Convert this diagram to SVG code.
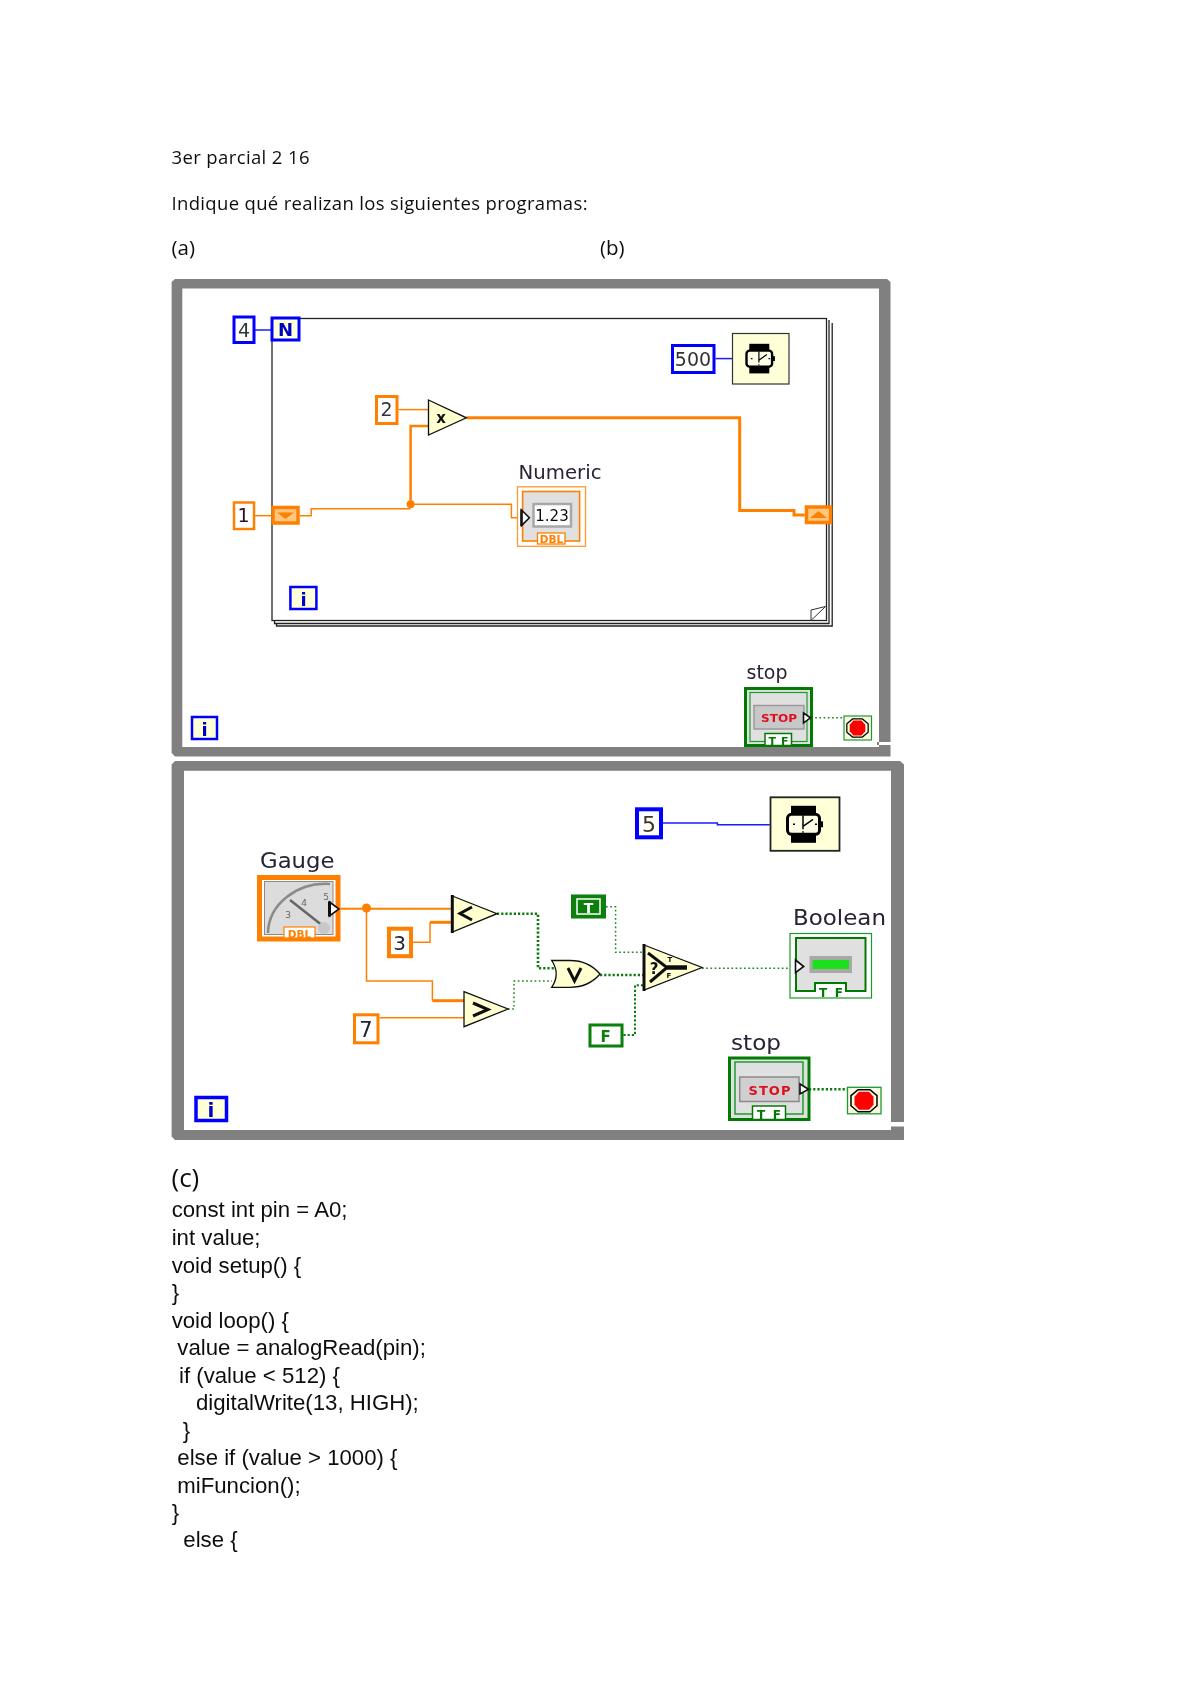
<svg xmlns="http://www.w3.org/2000/svg" xmlns:xlink="http://www.w3.org/1999/xlink" width="1200" height="1696" viewBox="0 0 1200 1696">
<style>
text{fill:#111}
.p{font-family:"Open Sans","Noto Sans",sans-serif;font-size:18.5px;fill:#111}
.c{font-family:"Liberation Sans",Arial,sans-serif;font-size:22.2px;fill:#111}
.l{font-family:"DejaVu Sans",sans-serif;fill:#2a2035}
.n{font-family:"DejaVu Sans",sans-serif;text-anchor:middle;fill:#333}
.ic{font-family:"DejaVu Sans",sans-serif;text-anchor:middle;font-weight:bold}
.frame{fill:#808080}
.bb{fill:#fff;stroke:#0000ff}
.by{fill:#ffffd8;stroke:#0000ff}
.ob{fill:#fff;stroke:#ff8000}
.w{fill:none;stroke-linejoin:miter}
.o1{stroke:#ff8000;stroke-width:1.5}
.o2{stroke:#ff8000;stroke-width:3}
.bl{stroke:#1a1aff;stroke-width:1.5}
.g1{stroke:#1f8a1f;stroke-width:1.5;stroke-dasharray:1.7 2.5}
.g2{stroke:#0a7a0a;stroke-width:2.6;stroke-dasharray:2.2 2}
.tri{fill:#ffffd0;stroke:#111;stroke-width:1.3}
.term{fill:#fff;stroke:#111;stroke-width:1.6}
.loop{fill:none;stroke:#222;stroke-width:1.3}
.gray{fill:#e0e0e0}
</style>
<defs>
<filter id="soft" x="0" y="0" width="100%" height="100%"><feGaussianBlur stdDeviation="0.45"/></filter>
<g id="watch">
<rect x="-14" y="-18.500" width="25" height="10" fill="#000"/>
<rect x="-14" y="8.500" width="25" height="10" fill="#000"/>
<rect x="-17.500" y="-10" width="32" height="20" rx="4" fill="#ffffe8" stroke="#000" stroke-width="3"/>
<rect x="15" y="-3" width="3" height="6" fill="#000"/>
<path d="M-2 -9V5M-2 2L8 -5" fill="none" stroke="#000" stroke-width="1.500"/>
<path d="M-12 0h2M-2 7v1.500M10 0h2" stroke="#000" stroke-width="1.500"/>
</g>
<g id="redstop">
<path d="M-6 -11H6L13 -5V5L6 11H-6L-13 5V-5Z" fill="#fbfbe0" stroke="#000" stroke-width="1.500"/>
<path d="M-5 -9H5L9.500 -4V4L5 9H-5L-9.500 4V-4Z" fill="#ff0000"/>
</g>
</defs>
<rect width="1200" height="1696" fill="#fff"/>
<g filter="url(#soft)">

<g id="heading">
<text class="p" x="171.500" y="164" textLength="138" lengthAdjust="spacing">3er parcial 2 16</text>
<text class="p" x="171.500" y="210" textLength="416" lengthAdjust="spacing">Indique qué realizan los siguientes programas:</text>
<text class="p" x="171.500" y="255" style="font-size:20.500px">(a)</text>
<text class="p" x="600" y="255" style="font-size:20.500px">(b)</text>
</g>

<g id="frame-a">
<path class="frame" fill-rule="evenodd" d="M175 279H887L890.500 282V742H877V745H890.500V756.500H175L171.600 753V282ZM182.300 288.400V747H879V288.400Z"/>
</g>
<g id="frame-b">
<path class="frame" fill-rule="evenodd" d="M175 761H900L904 764.500V1122H891V1126.500H904V1140H175L171.600 1136.500V764.500ZM184 770.700V1130H891V770.700Z"/>
</g>

<g id="for-loop">
<path class="loop" d="M274.500 620.500V623.500H829V320"/>
<path class="loop" d="M276.500 623.500V626H832.200V323"/>
<rect class="loop" x="272" y="318.500" width="554.500" height="302" stroke-width="1.800" fill="#fff"/>
<path d="M811 620.500V610L825.500 606.500L811 620.500" fill="#fff" stroke="#333" stroke-width="1"/>
</g>

<g id="connectors">
<path class="w bl" d="M255 330H271"/>
<path class="w bl" d="M715.500 358.600H732"/>
<path class="w o1" d="M398.500 409.600H428.500"/>
<path class="w o2" d="M466.400 417.800H739.700V510.400H794V515H804.700"/>
<path class="w o1" style="stroke-width:2.500" d="M410.600 504.300V426H428.500"/>
<path class="w o1" d="M255 515.700H271.500"/>
<path class="w o1" d="M300 515.700H311.200V508.800H410.600M410.600 504.300H511.400V517.800H521"/>
<circle cx="410.600" cy="504.300" r="4" fill="#ff8000"/>
<path class="w g1" d="M811 717.800H843.500"/>

<path class="w bl" d="M662.700 823H717.400V824.700H769.800"/>
<path class="w o1" style="stroke-width:2" d="M340.300 908.700H452"/>
<circle cx="366.500" cy="908" r="4.500" fill="#ff8000"/>
<path class="w o1" d="M366.500 908V981H432.400V1000.700"/>
<path class="w o2" d="M432.400 1000.700H464"/>
<path class="w o1" d="M413 942.300H430V922.300"/>
<path class="w o2" d="M430 922.300H452.300"/>
<path class="w o1" d="M379.600 1017.700H464"/>
<path class="w g2" d="M497 913.700H538V968.300H555"/>
<path class="w g1" d="M508 1009H514V981H552"/>
<path class="w g2" d="M600 975H643"/>
<path class="w g1" d="M606 906.700H615.600V952.300H643.800"/>
<path class="w g2" style="stroke-width:2" d="M623.400 1035H635V985.300H643.800"/>
<path class="w g1" d="M702 968.300H790"/>
<path class="w g2" d="M809 1089.300H847.300"/>
</g>

<g id="const-4"><rect class="bb" x="234" y="317" width="20" height="25.500" stroke-width="3"/><text class="n" x="244" y="336.500" font-size="19">4</text></g>
<g id="count-N"><rect class="by" x="272" y="318" width="27" height="22" stroke-width="3"/><text class="ic" x="285.500" y="335.500" font-size="18" style="fill:#0000c0">N</text></g>
<g id="const-500"><rect class="bb" x="672.500" y="345.500" width="41.500" height="27" stroke-width="3"/><text class="n" x="693" y="366" font-size="19">500</text></g>
<g id="wait-a"><rect x="732.500" y="333.500" width="56.500" height="50.500" fill="#ffffd8" stroke="#333" stroke-width="1.200"/><use xlink:href="#watch" href="#watch" transform="translate(760.500 358.600) scale(.8)"/></g>
<g id="const-2"><rect class="ob" x="376.500" y="396.500" width="20.500" height="27" stroke-width="3"/><text class="n" x="386.500" y="416" font-size="19" style="fill:#334">2</text></g>
<g id="multiply"><path class="tri" d="M428.500 400L466.400 417.800L428.500 435Z"/><text class="ic" x="441" y="423" font-size="15">x</text></g>
<g id="const-1"><rect class="ob" x="234" y="502.500" width="20" height="26.500" stroke-width="2.500"/><text class="n" x="243.500" y="522" font-size="19" style="fill:#312">1</text></g>
<g id="shift-left"><rect x="273" y="507.500" width="25" height="15.500" fill="#ffc880" stroke="#ff8000" stroke-width="3.500"/><path d="M277 512.500H294L285.500 519Z" fill="#ff8000"/></g>
<g id="shift-right"><rect x="806.500" y="507" width="24" height="15.500" fill="#ffc880" stroke="#ff8000" stroke-width="3.500"/><path d="M810 518H827L818.500 511Z" fill="#ff8000"/></g>

<g id="numeric">
<text class="l" x="518.500" y="479" font-size="19" textLength="83" lengthAdjust="spacingAndGlyphs">Numeric</text>
<rect x="517.500" y="486.800" width="68" height="59.500" fill="#fff" stroke="#ff9a30" stroke-width="1.300"/>
<rect x="522.600" y="491.500" width="57" height="49.500" class="gray" stroke="#ff8000" stroke-width="1.600"/>
<rect x="533.500" y="504" width="37.500" height="22.500" fill="#fff" stroke="#a8a8a8" stroke-width="2.500"/>
<text class="n" x="552" y="521" font-size="15" style="fill:#111">1.23</text>
<rect x="537.500" y="533" width="27.500" height="11" fill="#fff" stroke="#ff8000" stroke-width="1.300"/>
<text class="ic" x="551.500" y="543" font-size="10.500" style="fill:#ff8000">DBL</text>
<path class="term" d="M521.500 510L529.400 517.800L521.500 525.500Z"/>
<path d="M521.500 509.500V526" stroke="#111" stroke-width="2.500"/>
</g>

<g id="iter-inner"><rect class="by" x="290.400" y="587" width="26" height="22" stroke-width="2.500"/><text class="ic" x="303.500" y="606" font-size="18" style="fill:#0000c0">i</text></g>
<g id="iter-a"><rect class="by" x="192" y="717" width="25" height="22" stroke-width="2.500"/><text class="ic" x="204.500" y="735.500" font-size="18" style="fill:#0000c0">i</text></g>

<g id="stop-a">
<text class="l" x="746.500" y="679" font-size="19" textLength="41" lengthAdjust="spacingAndGlyphs">stop</text>
<rect x="745.500" y="688.500" width="66" height="57" class="gray" stroke="#067a06" stroke-width="3"/>
<rect x="750" y="692.500" width="57" height="49" fill="none" stroke="#1f9a2f" stroke-width="1.200"/>
<rect x="754" y="705.500" width="50" height="23.500" fill="#c8c8c8" stroke="#9a9a9a" stroke-width="1.500"/>
<text class="ic" x="779" y="722" font-size="11" textLength="36" lengthAdjust="spacingAndGlyphs" style="fill:#e01020">STOP</text>
<rect x="765" y="733.500" width="26.500" height="12" fill="#fff" stroke="#067a06" stroke-width="1.500"/>
<text class="ic" x="778.500" y="744.500" font-size="11" textLength="20" lengthAdjust="spacing" style="fill:#067a06">TF</text>
<path class="term" d="M803.500 713L810.500 717.800L803.500 723Z"/>
</g>
<g id="stop-term-a">
<rect x="844" y="716" width="27.500" height="24" fill="#fbfbe0" stroke="#1f9a2f" stroke-width="1.200"/>
<use xlink:href="#redstop" href="#redstop" transform="translate(857.500 728) scale(.82)"/>
</g>

<g id="const-5"><rect class="bb" x="637" y="809.300" width="24" height="28" stroke-width="4"/><text class="n" x="649" y="832" font-size="22" style="fill:#432">5</text></g>
<g id="wait-b"><rect x="770.500" y="797.300" width="69" height="53.500" fill="#ffffd8" stroke="#222" stroke-width="1.800"/><use xlink:href="#watch" href="#watch" transform="translate(805 824.300)"/></g>

<g id="gauge">
<text class="l" x="260" y="867.500" font-size="21" textLength="74.500" lengthAdjust="spacingAndGlyphs">Gauge</text>
<rect x="259.500" y="877.500" width="78.500" height="61.500" fill="#fff" stroke="#ff8000" stroke-width="5"/>
<rect x="264.500" y="881.500" width="68.500" height="53" fill="#dcdcdc" stroke="#8a8a8a" stroke-width="1"/>
<path d="M268 933A58 50 0 0 1 330 884" fill="none" stroke="#8a8a8a" stroke-width="2.500"/>
<path d="M290 900L323 926" stroke="#666" stroke-width="2.500"/>
<circle cx="324" cy="928" r="6" fill="#c8c8c8"/>
<text class="n" x="288" y="918" font-size="9" style="fill:#666">3</text>
<text class="n" x="304" y="906" font-size="9" style="fill:#666">4</text>
<text class="n" x="326" y="900" font-size="9" style="fill:#666">5</text>
<rect x="284" y="927" width="31" height="11" fill="#fff" stroke="#ff8000" stroke-width="1.200"/>
<text class="ic" x="299.500" y="937.500" font-size="10.500" style="fill:#ff8000">DBL</text>
<path class="term" d="M329.500 902L339 909L329.500 916Z"/>
<path d="M329.500 901.500V916.500" stroke="#111" stroke-width="3"/>
</g>

<g id="less"><path class="tri" d="M452.300 896L497 913.700L452.300 932Z"/><path d="M452.300 895V933" stroke="#111" stroke-width="3"/><path d="M472 907L460 913.500L472 920" fill="none" stroke="#111" stroke-width="3"/></g>
<g id="const-3"><rect class="ob" x="389" y="928.700" width="22" height="27.500" stroke-width="4"/><text class="n" x="399.500" y="950" font-size="20" style="fill:#223">3</text></g>
<g id="greater"><path class="tri" d="M464 991.700L508 1009L464 1026.700Z"/><path d="M473 1003L488 1009.500L473 1016" fill="none" stroke="#111" stroke-width="3"/></g>
<g id="const-7"><rect class="ob" x="354.500" y="1014.800" width="23.500" height="28" stroke-width="3"/><text class="n" x="366" y="1037" font-size="21" style="fill:#223">7</text></g>
<g id="or"><path class="tri" d="M551.700 960.500H570C584 960.500 594 967 600 974C594 981 584 987.300 570 987.300H551.700C558 978 558 970 551.700 960.500Z"/><path d="M568 968L574.500 981L581 968" fill="none" stroke="#111" stroke-width="3"/></g>
<g id="select">
<path class="tri" d="M644 945L702 967.500L644 990Z"/>
<path d="M644 944V991" stroke="#111" stroke-width="3"/>
<path d="M648 953L667 967.500L650 982" fill="none" stroke="#111" stroke-width="3"/>
<path d="M667 967.500H687" fill="none" stroke="#111" stroke-width="4.500"/>
<text class="ic" x="654" y="974" font-size="15">?</text>
<text class="ic" x="670" y="962" font-size="7">T</text>
<text class="ic" x="669" y="978" font-size="7">F</text>
</g>
<g id="const-T"><rect x="571" y="894.500" width="35" height="24" fill="#087f08"/><rect x="577" y="899" width="23" height="15" fill="#087f08" stroke="#fff" stroke-width="1.500"/><text class="ic" x="588.500" y="912.500" font-size="14" style="fill:#fff">T</text></g>
<g id="const-F"><rect x="590" y="1025" width="32" height="21" fill="#fff" stroke="#087f08" stroke-width="3"/><text class="ic" x="605.500" y="1042" font-size="15" style="fill:#087f08">F</text></g>

<g id="boolean">
<text class="l" x="793" y="925" font-size="21" textLength="93" lengthAdjust="spacingAndGlyphs">Boolean</text>
<rect x="790" y="933.500" width="81.500" height="64.500" fill="#fff" stroke="#1f9a2f" stroke-width="1.200"/>
<path d="M796 938H865.500V991H846V983H815V991H796Z" class="gray" stroke="#067a06" stroke-width="2"/>
<rect x="809.500" y="956" width="42.500" height="17" fill="#a8a8a8"/>
<rect x="812.500" y="960" width="36.500" height="9" fill="#1ee01e"/>
<text class="ic" x="831" y="997" font-size="12" textLength="24" lengthAdjust="spacing" style="fill:#067a06">TF</text>
<path class="term" d="M795.500 960L803.700 966.500L795.500 972.700Z"/>
</g>

<g id="stop-b">
<text class="l" x="731" y="1050" font-size="21" textLength="50" lengthAdjust="spacingAndGlyphs">stop</text>
<rect x="729.500" y="1058" width="79.500" height="61.500" class="gray" stroke="#067a06" stroke-width="3"/>
<rect x="735" y="1062" width="68" height="52" fill="none" stroke="#1f9a2f" stroke-width="1.500"/>
<rect x="739.700" y="1077" width="59.300" height="24.500" fill="#d0d0d0" stroke="#8a8a8a" stroke-width="1.500"/>
<text class="ic" x="769.500" y="1095" font-size="13" textLength="42" lengthAdjust="spacing" style="fill:#e01020">STOP</text>
<rect x="752.500" y="1106" width="33" height="13.500" fill="#fff" stroke="#067a06" stroke-width="1.500"/>
<text class="ic" x="769" y="1118.500" font-size="12" textLength="24" lengthAdjust="spacing" style="fill:#067a06">TF</text>
<path class="term" d="M800 1084L808.600 1089.300L800 1094Z"/>
</g>
<g id="stop-term-b">
<rect x="847.500" y="1087.300" width="33.500" height="26.500" fill="#fbfbe0" stroke="#1f9a2f" stroke-width="1.300"/>
<use xlink:href="#redstop" href="#redstop" transform="translate(864 1100.700)"/>
</g>
<g id="iter-b"><rect class="by" x="196" y="1097.500" width="30.500" height="23" stroke-width="3.500"/><text class="ic" x="211" y="1117" font-size="20" style="fill:#0000c0">i</text></g>

<g id="code">
<text class="p" x="171.500" y="1187" style="font-size:26px">(c)</text>
<text class="c" x="171.700" y="1217.300">const int pin = A0;</text>
<text class="c" x="171.700" y="1245">int value;</text>
<text class="c" x="171.700" y="1272.700">void setup() {</text>
<text class="c" x="171.700" y="1300">}</text>
<text class="c" x="171.700" y="1327.500">void loop() {</text>
<text class="c" x="177.300" y="1355">value = analogRead(pin);</text>
<text class="c" x="179" y="1382.700">if (value &lt; 512) {</text>
<text class="c" x="196" y="1410">digitalWrite(13, HIGH);</text>
<text class="c" x="182.700" y="1437.500">}</text>
<text class="c" x="177.300" y="1465">else if (value &gt; 1000) {</text>
<text class="c" x="177.300" y="1492.700">miFuncion();</text>
<text class="c" x="171.700" y="1520">}</text>
<text class="c" x="183.300" y="1547">else {</text>
</g>
</g>
</svg>
